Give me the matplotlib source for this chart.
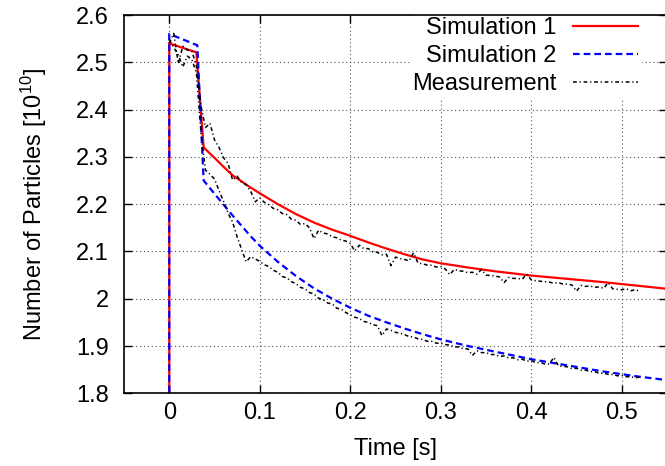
import matplotlib
matplotlib.use("Agg")
import matplotlib.pyplot as plt

plt.rcParams['font.family'] = ['Liberation Sans', 'DejaVu Sans']
plt.rcParams['mathtext.default'] = 'regular'

# ---------------- data ----------------
sim1_t = [0.0, 0.0, 0.030, 0.038, 0.045, 0.050, 0.060, 0.070, 0.080, 0.090, 0.100,
          0.120, 0.140, 0.160, 0.180, 0.200, 0.220, 0.240, 0.260, 0.280, 0.300,
          0.330, 0.360, 0.400, 0.440, 0.480, 0.520, 0.550]
sim1_v = [0.0, 2.540, 2.521, 2.320, 2.307, 2.298, 2.279, 2.261, 2.248, 2.235, 2.223,
          2.200, 2.179, 2.161, 2.146, 2.133, 2.119, 2.106, 2.094, 2.083, 2.075,
          2.066, 2.058, 2.049, 2.042, 2.035, 2.027, 2.021]

sim2_t = [0.0, 0.0, 0.031, 0.038, 0.050, 0.060, 0.070, 0.080, 0.090, 0.100,
          0.120, 0.140, 0.160, 0.180, 0.200, 0.220, 0.240, 0.260, 0.280, 0.300,
          0.330, 0.360, 0.400, 0.440, 0.480, 0.520, 0.550]
sim2_v = [0.0, 2.560, 2.536, 2.250, 2.222, 2.199, 2.176, 2.154, 2.132, 2.112,
          2.078, 2.048, 2.022, 2.000, 1.981, 1.964, 1.950, 1.937, 1.925, 1.914,
          1.900, 1.888, 1.872, 1.859, 1.846, 1.835, 1.828]

meas_t = [0.000, 0.005, 0.010, 0.015, 0.020, 0.025, 0.030, 0.035, 0.040, 0.045,
          0.050, 0.055, 0.060, 0.065, 0.070, 0.075, 0.080, 0.085, 0.090, 0.095,
          0.100, 0.105, 0.110, 0.115, 0.120, 0.125, 0.130, 0.135, 0.140, 0.145,
          0.150, 0.155, 0.160, 0.165, 0.170, 0.175, 0.180, 0.185, 0.190, 0.195,
          0.200, 0.205, 0.210, 0.215, 0.220, 0.225, 0.230, 0.235, 0.240, 0.245,
          0.250, 0.255, 0.260, 0.265, 0.270, 0.275, 0.280, 0.285, 0.290, 0.295,
          0.300, 0.305, 0.310, 0.315, 0.320, 0.325, 0.330, 0.335, 0.340, 0.345,
          0.350, 0.355, 0.360, 0.365, 0.370, 0.375, 0.380, 0.385, 0.390, 0.395,
          0.400, 0.405, 0.410, 0.415, 0.420, 0.425, 0.430, 0.435, 0.440, 0.445,
          0.450, 0.455, 0.460, 0.465, 0.470, 0.475, 0.480, 0.485, 0.490, 0.495,
          0.500, 0.505, 0.510, 0.515, 0.520]

meas1_v = [2.540, 2.561, 2.497, 2.534, 2.526, 2.523, 2.493, 2.408, 2.362, 2.371,
           2.336, 2.320, 2.298, 2.286, 2.251, 2.259, 2.246, 2.241, 2.227, 2.205,
           2.213, 2.204, 2.199, 2.191, 2.188, 2.180, 2.178, 2.168, 2.166, 2.157,
           2.159, 2.150, 2.127, 2.145, 2.139, 2.137, 2.131, 2.129, 2.124, 2.122,
           2.117, 2.101, 2.113, 2.106, 2.106, 2.099, 2.098, 2.093, 2.094, 2.070,
           2.088, 2.085, 2.083, 2.080, 2.097, 2.075, 2.074, 2.071, 2.071, 2.067,
           2.068, 2.063, 2.051, 2.062, 2.059, 2.058, 2.055, 2.056, 2.052, 2.062,
           2.050, 2.049, 2.048, 2.046, 2.034, 2.045, 2.043, 2.043, 2.041, 2.052,
           2.040, 2.038, 2.037, 2.036, 2.035, 2.033, 2.034, 2.031, 2.031, 2.029,
           2.016, 2.028, 2.026, 2.027, 2.024, 2.025, 2.022, 2.034, 2.021, 2.020,
           2.019, 2.021, 2.017, 2.019, 2.016]

meas2_v = [2.548, 2.531, 2.516, 2.490, 2.513, 2.506, 2.478, 2.352, 2.272, 2.263,
           2.253, 2.229, 2.206, 2.181, 2.162, 2.131, 2.104, 2.078, 2.089, 2.084,
           2.079, 2.072, 2.068, 2.060, 2.056, 2.047, 2.044, 2.036, 2.032, 2.024,
           2.021, 2.013, 2.010, 2.001, 1.998, 1.991, 1.989, 1.980, 1.978, 1.971,
           1.966, 1.961, 1.958, 1.952, 1.950, 1.945, 1.943, 1.922, 1.936, 1.933,
           1.929, 1.927, 1.924, 1.920, 1.919, 1.915, 1.914, 1.910, 1.910, 1.906,
           1.906, 1.903, 1.902, 1.898, 1.898, 1.894, 1.894, 1.880, 1.890, 1.886,
           1.886, 1.882, 1.882, 1.878, 1.879, 1.875, 1.875, 1.871, 1.872, 1.868,
           1.869, 1.865, 1.865, 1.862, 1.862, 1.876, 1.858, 1.857, 1.856, 1.852,
           1.853, 1.849, 1.849, 1.846, 1.846, 1.842, 1.843, 1.840, 1.840, 1.837,
           1.838, 1.835, 1.835, 1.833, 1.834]

x_ticks = [0, 0.1, 0.2, 0.3, 0.4, 0.5]
x_ticklabels = ['0', '0.1', '0.2', '0.3', '0.4', '0.5']
y_ticks = [1.8, 1.9, 2.0, 2.1, 2.2, 2.3, 2.4, 2.5, 2.6]
y_ticklabels = ['1.8', '1.9', '2', '2.1', '2.2', '2.3', '2.4', '2.5', '2.6']

# ---------------- figure ----------------
W, H = 665, 466
fig = plt.figure(figsize=(W / 100, H / 100), dpi=100)
ax = fig.add_axes([124 / W, (H - 393.3) / H, (667 - 124) / W, (393.3 - 15) / H])

fs = 17
grid_kw = dict(color='#555555', linewidth=0.8, linestyle=(0, (1, 2.5)))
ax.grid(True, **grid_kw)
ax.set_axisbelow(True)

l1, = ax.plot(sim1_t, sim1_v, color='#ff0000', lw=1.6, solid_joinstyle='miter', zorder=3)
l2, = ax.plot(sim2_t, sim2_v, color='#0000ff', lw=1.6, linestyle=(0, (3, 1.8)), zorder=4)
l3, = ax.plot(meas_t, meas1_v, color='black', lw=1.1, linestyle=(0, (2.5, 1.8, 0.8, 1.8)), zorder=5)
ax.plot(meas_t, meas2_v, color='black', lw=1.1, linestyle=(0, (2.5, 1.8, 0.8, 1.8)), zorder=5)

ax.set_xlim(-0.05, 0.55)
ax.set_ylim(1.8, 2.6)
ax.set_xticks(x_ticks)
ax.set_xticklabels(x_ticklabels)
ax.set_yticks(y_ticks)
ax.set_yticklabels(y_ticklabels)
ax.tick_params(direction='in', length=6, width=1.0, top=True, right=True,
               labelsize=fs)
ax.tick_params(axis='y', pad=11)
ax.tick_params(axis='x', pad=6.5)
for s in ax.spines.values():
    s.set_linewidth(1.2)
    s.set_zorder(12)

ax.set_xlabel('Time [s]', fontsize=fs, labelpad=10)
ax.set_ylabel('Number of Particles [10$^{10}$]', fontsize=fs, labelpad=19.5)

leg = ax.legend([l1, l2, l3], ['Simulation 1', 'Simulation 2', 'Measurement'],
                loc='upper right', bbox_to_anchor=(0.9512, 1.0),
                markerfirst=False, frameon=True, fancybox=False,
                facecolor='white', edgecolor='white', framealpha=1.0,
                fontsize=fs, handlelength=2.75, handletextpad=0.7,
                labelspacing=0.25, borderpad=0.1, borderaxespad=0.0)
leg.set_zorder(10)

fig.savefig('out.png', dpi=100)
